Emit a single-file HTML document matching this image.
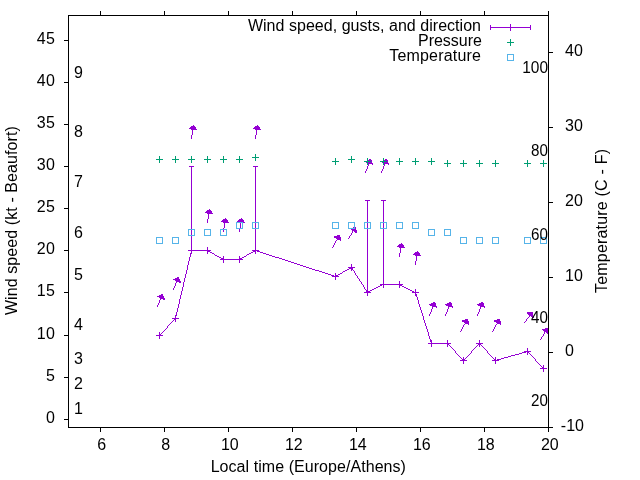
<!DOCTYPE html>
<html><head><meta charset="utf-8"><title>Wind</title>
<style>html,body{margin:0;padding:0;background:#fff;overflow:hidden}svg{display:block}</style></head>
<body>
<svg width="640" height="480" viewBox="0 0 640 480" style="display:block">
<rect width="640" height="480" fill="#fff"/>
<g shape-rendering="crispEdges" fill="none" stroke-width="1">
<path d="M159.5,335v1M160.5,334v1M161.5,333v1M162.5,332v1M163.5,331v1M164.5,330v1M165.5,329v1M166.5,328v1M167.5,326v2M168.5,325v1M169.5,324v1M170.5,323v1M171.5,322v1M172.5,321v1M173.5,320v1M174.5,319v1M175.5,318v1M175.5,316v3M176.5,312v4M177.5,308v4M178.5,304v4M179.5,299v5M180.5,295v4M181.5,291v4M182.5,287v4M183.5,282v5M184.5,278v4M185.5,274v4M186.5,270v4M187.5,265v5M188.5,261v4M189.5,257v4M190.5,253v4M191.5,250v3M191,250.5h17M207,250.5h1M208,251.5h2M210,252.5h2M212,253.5h2M214,254.5h1M215,255.5h2M217,256.5h2M219,257.5h2M221,258.5h2M223,259.5h1M223,259.5h17M255,250.5h1M253,251.5h2M251,252.5h2M249,253.5h2M247,254.5h2M246,255.5h1M244,256.5h2M242,257.5h2M240,258.5h2M239,259.5h1M255,250.5h2M257,251.5h3M260,252.5h3M263,253.5h3M266,254.5h3M269,255.5h3M272,256.5h3M275,257.5h4M279,258.5h3M282,259.5h3M285,260.5h3M288,261.5h3M291,262.5h3M294,263.5h3M297,264.5h3M300,265.5h3M303,266.5h3M306,267.5h3M309,268.5h3M312,269.5h3M315,270.5h4M319,271.5h3M322,272.5h3M325,273.5h3M328,274.5h3M331,275.5h3M334,276.5h2M351,267.5h1M349,268.5h2M347,269.5h2M345,270.5h2M343,271.5h2M342,272.5h1M340,273.5h2M338,274.5h2M336,275.5h2M335,276.5h1M351.5,267v1M352.5,268v2M353.5,270v1M354.5,271v2M355.5,273v2M356.5,275v1M357.5,276v2M358.5,278v1M359.5,279v2M360.5,281v1M361.5,282v2M362.5,284v1M363.5,285v2M364.5,287v2M365.5,289v1M366.5,290v2M367.5,292v1M382,284.5h2M380,285.5h2M378,286.5h2M376,287.5h2M374,288.5h2M372,289.5h2M370,290.5h2M368,291.5h2M367,292.5h1M383,284.5h17M399,284.5h1M400,285.5h2M402,286.5h2M404,287.5h2M406,288.5h2M408,289.5h2M410,290.5h2M412,291.5h2M414,292.5h2M415.5,292v2M416.5,294v3M417.5,297v3M418.5,300v4M419.5,304v3M420.5,307v3M421.5,310v3M422.5,313v3M423.5,316v4M424.5,320v3M425.5,323v3M426.5,326v3M427.5,329v3M428.5,332v4M429.5,336v3M430.5,339v3M431.5,342v2M431,343.5h17M447.5,343v1M448.5,344v1M449.5,345v1M450.5,346v1M451.5,347v1M452.5,348v1M453.5,349v1M454.5,350v1M455.5,351v2M456.5,353v1M457.5,354v1M458.5,355v1M459.5,356v1M460.5,357v1M461.5,358v1M462.5,359v1M463.5,360v1M463.5,360v1M464.5,359v1M465.5,358v1M466.5,357v1M467.5,356v1M468.5,355v1M469.5,354v1M470.5,353v1M471.5,351v2M472.5,350v1M473.5,349v1M474.5,348v1M475.5,347v1M476.5,346v1M477.5,345v1M478.5,344v1M479.5,343v1M479.5,343v1M480.5,344v1M481.5,345v1M482.5,346v1M483.5,347v1M484.5,348v1M485.5,349v1M486.5,350v1M487.5,351v2M488.5,353v1M489.5,354v1M490.5,355v1M491.5,356v1M492.5,357v1M493.5,358v1M494.5,359v1M495.5,360v1M526,351.5h2M522,352.5h4M519,353.5h3M515,354.5h4M511,355.5h4M508,356.5h3M504,357.5h4M501,358.5h3M497,359.5h4M495,360.5h2M527.5,351v1M528.5,352v1M529.5,353v1M530.5,354v1M531.5,355v1M532.5,356v1M533.5,357v1M534.5,358v1M535.5,359v2M536.5,361v1M537.5,362v1M538.5,363v1M539.5,364v1M540.5,365v1M541.5,366v1M542.5,367v1M543.5,368v1" stroke="#9400d3"/>
<path d="M156.0,335.5h7M159.5,332.0v7M172.0,318.5h7M175.5,315.0v7M188.0,250.5h7M191.5,247.0v7M191.5,250.5V166.5M189.0,166.5h5M204.0,250.5h7M207.5,247.0v7M220.0,259.5h7M223.5,256.0v7M236.0,259.5h7M239.5,256.0v7M252.0,250.5h7M255.5,247.0v7M255.5,250.5V166.5M253.0,166.5h5M332.0,276.5h7M335.5,273.0v7M348.0,267.5h7M351.5,264.0v7M364.0,292.5h7M367.5,289.0v7M367.5,292.5V200.5M365.0,200.5h5M380.0,284.5h7M383.5,281.0v7M383.5,284.5V200.5M381.0,200.5h5M396.0,284.5h7M399.5,281.0v7M412.0,292.5h7M415.5,289.0v7M428.0,343.5h7M431.5,340.0v7M444.0,343.5h7M447.5,340.0v7M460.0,360.5h7M463.5,357.0v7M476.0,343.5h7M479.5,340.0v7M492.0,360.5h7M495.5,357.0v7M524.0,351.5h7M527.5,348.0v7M540.0,368.5h7M543.5,365.0v7" stroke="#9400d3"/>
</g>
<g clip-path="url(#c)" stroke="#9400d3" fill="#9400d3" stroke-width="1" shape-rendering="crispEdges" stroke-linejoin="round" stroke-linecap="square">
<path d="M157.5,305v2M158.5,303v2M159.5,300v3M160.5,298v2M161.5,296v2M162.5,294v2" fill="none" stroke-linecap="butt"/>
<path d="M162.50,294.50L164.64,299.51L157.44,296.51Z"/>
<path d="M173.5,288v2M174.5,286v2M175.5,283v3M176.5,281v2M177.5,279v2M178.5,277v2" fill="none" stroke-linecap="butt"/>
<path d="M178.50,277.50L180.64,282.51L173.44,279.51Z"/>
<path d="M191.5,135v4M192.5,129v6M193.5,125v4" fill="none" stroke-linecap="butt"/>
<path d="M193.50,125.50L196.78,129.85L189.07,128.66Z"/>
<path d="M207.5,219v4M208.5,213v6M209.5,209v4" fill="none" stroke-linecap="butt"/>
<path d="M209.50,209.50L212.78,213.85L205.07,212.66Z"/>
<path d="M223.5,228v4M224.5,222v6M225.5,218v4" fill="none" stroke-linecap="butt"/>
<path d="M225.50,218.50L228.78,222.85L221.07,221.66Z"/>
<path d="M239.5,228v4M240.5,222v6M241.5,218v4" fill="none" stroke-linecap="butt"/>
<path d="M241.50,218.50L244.78,222.85L237.07,221.66Z"/>
<path d="M255.5,135v4M256.5,129v6M257.5,125v4" fill="none" stroke-linecap="butt"/>
<path d="M257.50,125.50L260.78,129.85L253.07,128.66Z"/>
<path d="M332.5,247v1M333.5,245v2M334.5,243v2M335.5,241v2M336.5,240v1M337.5,238v2M338.5,236v2M339.5,235v1" fill="none" stroke-linecap="butt"/>
<path d="M339.50,235.50L340.95,240.75L334.22,236.82Z"/>
<path d="M348.5,238v1M349.5,236v2M350.5,235v1M351.5,233v2M352.5,231v2M353.5,230v1M354.5,228v2M355.5,227v1" fill="none" stroke-linecap="butt"/>
<path d="M355.50,227.50L356.75,232.80L350.17,228.61Z"/>
<path d="M365.5,171v2M366.5,169v2M367.5,166v3M368.5,163v3M369.5,161v2M370.5,159v2" fill="none" stroke-linecap="butt"/>
<path d="M370.50,159.50L372.78,164.45L365.50,161.65Z"/>
<path d="M381.5,171v2M382.5,169v2M383.5,166v3M384.5,163v3M385.5,161v2M386.5,159v2" fill="none" stroke-linecap="butt"/>
<path d="M386.50,159.50L388.78,164.45L381.50,161.65Z"/>
<path d="M399.5,253v4M400.5,247v6M401.5,243v4" fill="none" stroke-linecap="butt"/>
<path d="M401.50,243.50L404.78,247.85L397.07,246.66Z"/>
<path d="M415.5,261v4M416.5,255v6M417.5,251v4" fill="none" stroke-linecap="butt"/>
<path d="M417.50,251.50L420.78,255.85L413.07,254.66Z"/>
<path d="M429.5,314v2M430.5,312v2M431.5,309v3M432.5,306v3M433.5,304v2M434.5,302v2" fill="none" stroke-linecap="butt"/>
<path d="M434.50,302.50L436.78,307.45L429.50,304.65Z"/>
<path d="M445.5,314v2M446.5,312v2M447.5,309v3M448.5,306v3M449.5,304v2M450.5,302v2" fill="none" stroke-linecap="butt"/>
<path d="M450.50,302.50L452.78,307.45L445.50,304.65Z"/>
<path d="M460.5,331v1M461.5,329v2M462.5,327v2M463.5,325v2M464.5,324v1M465.5,322v2M466.5,320v2M467.5,319v1" fill="none" stroke-linecap="butt"/>
<path d="M467.50,319.50L468.95,324.75L462.22,320.82Z"/>
<path d="M477.5,314v2M478.5,312v2M479.5,309v3M480.5,306v3M481.5,304v2M482.5,302v2" fill="none" stroke-linecap="butt"/>
<path d="M482.50,302.50L484.78,307.45L477.50,304.65Z"/>
<path d="M492.5,331v1M493.5,329v2M494.5,327v2M495.5,325v2M496.5,324v1M497.5,322v2M498.5,320v2M499.5,319v1" fill="none" stroke-linecap="butt"/>
<path d="M499.50,319.50L500.95,324.75L494.22,320.82Z"/>
<path d="M524.5,322v1M525.5,321v1M526.5,319v2M527.5,318v1M528.5,317v1M529.5,316v1M530.5,314v2M531.5,313v1M532.5,312v1" fill="none" stroke-linecap="butt"/>
<path d="M532.50,312.50L533.17,317.90L527.08,313.03Z"/>
<path d="M540.5,339v1M541.5,337v2M542.5,336v1M543.5,334v2M544.5,332v2M545.5,331v1M546.5,329v2M547.5,328v1" fill="none" stroke-linecap="butt"/>
<path d="M547.50,328.50L548.75,333.80L542.17,329.61Z"/>
</g>
<defs><clipPath id="c"><rect x="68" y="15" width="481" height="413"/></clipPath></defs>
<g shape-rendering="crispEdges" fill="none" stroke-width="1">
<path d="M156.0,159.5h7M159.5,156.0v7M172.0,159.5h7M175.5,156.0v7M188.0,159.5h7M191.5,156.0v7M204.0,159.5h7M207.5,156.0v7M220.0,159.5h7M223.5,156.0v7M236.0,159.5h7M239.5,156.0v7M252.0,157.5h7M255.5,154.0v7M332.0,161.5h7M335.5,158.0v7M348.0,159.5h7M351.5,156.0v7M364.0,161.5h7M367.5,158.0v7M380.0,161.5h7M383.5,158.0v7M396.0,161.5h7M399.5,158.0v7M412.0,161.5h7M415.5,158.0v7M428.0,161.5h7M431.5,158.0v7M444.0,163.5h7M447.5,160.0v7M460.0,163.5h7M463.5,160.0v7M476.0,163.5h7M479.5,160.0v7M492.0,163.5h7M495.5,160.0v7M524.0,163.5h7M527.5,160.0v7M540.0,163.5h7M543.5,160.0v7M507.0,42.5h7M510.5,39v7" stroke="#009e73"/>
<path d="M156.5,237.5h6v6h-6zM172.5,237.5h6v6h-6zM188.5,229.5h6v6h-6zM204.5,229.5h6v6h-6zM220.5,229.5h6v6h-6zM236.5,222.5h6v6h-6zM252.5,222.5h6v6h-6zM332.5,222.5h6v6h-6zM348.5,222.5h6v6h-6zM364.5,222.5h6v6h-6zM380.5,222.5h6v6h-6zM396.5,222.5h6v6h-6zM412.5,222.5h6v6h-6zM428.5,229.5h6v6h-6zM444.5,229.5h6v6h-6zM460.5,237.5h6v6h-6zM476.5,237.5h6v6h-6zM492.5,237.5h6v6h-6zM524.5,237.5h6v6h-6zM540.5,237.5h6v6h-6zM507.5,54.5h6v6h-6z" stroke="#56b4e9"/>
<path d="M490.5,27.5H530.5M490.5,25v5M530.5,25v5M507,27.5h7M510.5,24v7" stroke="#9400d3"/>
<path d="M68.5,15.5H548.5V427.5H68.5ZM64,419.5h4.5M64,377.5h4.5M64,335.5h4.5M64,292.5h4.5M64,250.5h4.5M64,208.5h4.5M64,166.5h4.5M64,124.5h4.5M64,82.5h4.5M64,40.5h4.5M548.5,427.5h4.5M548.5,352.5h4.5M548.5,277.5h4.5M548.5,202.5h4.5M548.5,127.5h4.5M548.5,52.5h4.5M100.5,427.5v4.5M100.5,11v4.5M164.5,427.5v4.5M164.5,11v4.5M228.5,427.5v4.5M228.5,11v4.5M292.5,427.5v4.5M292.5,11v4.5M356.5,427.5v4.5M356.5,11v4.5M420.5,427.5v4.5M420.5,11v4.5M484.5,427.5v4.5M484.5,11v4.5M548.5,427.5v4.5M548.5,11v4.5" stroke="#000"/>
</g>
<g font-family="'Liberation Sans', Arial, sans-serif" font-size="16" fill="#000">
<text x="55" y="423" text-anchor="end">0</text>
<text x="55" y="381" text-anchor="end">5</text>
<text x="55" y="339" text-anchor="end" textLength="18.3">10</text>
<text x="55" y="296" text-anchor="end" textLength="18.3">15</text>
<text x="55" y="254" text-anchor="end" textLength="18.3">20</text>
<text x="55" y="212" text-anchor="end" textLength="18.3">25</text>
<text x="55" y="170" text-anchor="end" textLength="18.3">30</text>
<text x="55" y="128" text-anchor="end" textLength="18.3">35</text>
<text x="55" y="86" text-anchor="end" textLength="18.3">40</text>
<text x="55" y="44" text-anchor="end" textLength="18.3">45</text>
<text x="560.8" y="431">-10</text>
<text x="565" y="356">0</text>
<text x="565" y="281">10</text>
<text x="565" y="206">20</text>
<text x="565" y="131">30</text>
<text x="565" y="56">40</text>
<text x="101.8" y="450" text-anchor="middle">6</text>
<text x="165.8" y="450" text-anchor="middle">8</text>
<text x="229.8" y="450" text-anchor="middle">10</text>
<text x="293.8" y="450" text-anchor="middle">12</text>
<text x="357.8" y="450" text-anchor="middle">14</text>
<text x="421.8" y="450" text-anchor="middle">16</text>
<text x="485.8" y="450" text-anchor="middle">18</text>
<text x="549.8" y="450" text-anchor="middle">20</text>
<text x="74" y="414">1</text>
<text x="74" y="389">2</text>
<text x="74" y="364">3</text>
<text x="74" y="330">4</text>
<text x="74" y="280">5</text>
<text x="74" y="238">6</text>
<text x="74" y="187">7</text>
<text x="74" y="137">8</text>
<text x="74" y="78">9</text>
<text x="548" y="406" text-anchor="end" textLength="16.9" lengthAdjust="spacingAndGlyphs">20</text>
<text x="548" y="323" text-anchor="end" textLength="16.9" lengthAdjust="spacingAndGlyphs">40</text>
<text x="548" y="240" text-anchor="end" textLength="16.9" lengthAdjust="spacingAndGlyphs">60</text>
<text x="548" y="156" text-anchor="end" textLength="16.9" lengthAdjust="spacingAndGlyphs">80</text>
<text x="548" y="73" text-anchor="end" textLength="25.8" lengthAdjust="spacingAndGlyphs">100</text>
<text x="481" y="31" text-anchor="end" textLength="233.1">Wind speed, gusts, and direction</text>
<text x="482" y="46" text-anchor="end">Pressure</text>
<text x="481" y="61" text-anchor="end" textLength="91.8">Temperature</text>
<text x="308.3" y="472" text-anchor="middle" textLength="195.3">Local time (Europe/Athens)</text>
<text transform="translate(17,220.6) rotate(-90)" text-anchor="middle" textLength="189">Wind speed (kt - Beaufort)</text>
<text transform="translate(607,221) rotate(-90)" text-anchor="middle" textLength="144">Temperature (C - F)</text>
</g>
</svg>
</body></html>
